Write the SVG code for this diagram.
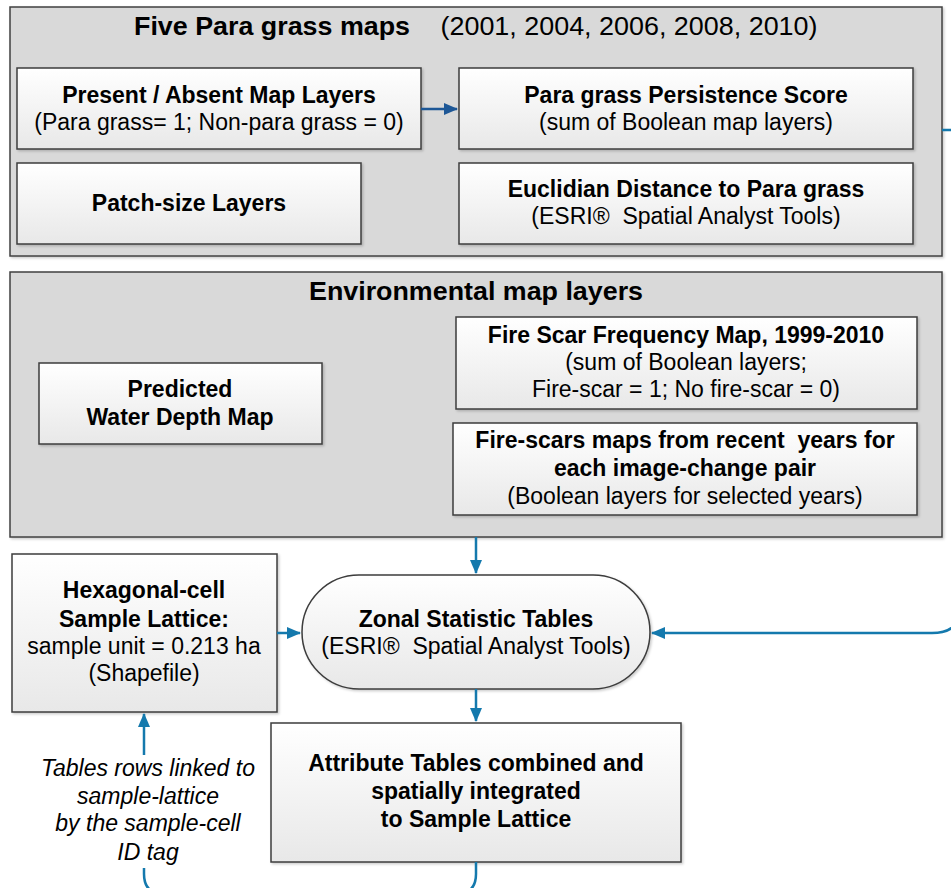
<svg xmlns="http://www.w3.org/2000/svg" width="951" height="888" viewBox="0 0 951 888">
<defs>
<linearGradient id="boxg" x1="0" y1="0" x2="0" y2="1">
<stop offset="0" stop-color="#ffffff"/>
<stop offset="1" stop-color="#e8e8e8"/>
</linearGradient>
<filter id="sh" x="-5%" y="-5%" width="110%" height="115%">
<feDropShadow dx="1.5" dy="1.5" stdDeviation="1" flood-color="#000" flood-opacity="0.2"/>
</filter>
<marker id="ah" viewBox="0 0 14 12" refX="13" refY="6" markerWidth="14" markerHeight="12" markerUnits="userSpaceOnUse" orient="auto">
<path d="M0,0 L14,6 L0,12 Z" fill="#1479ad"/>
</marker>
<marker id="ahd" viewBox="0 0 14 12" refX="13" refY="6" markerWidth="14" markerHeight="12" markerUnits="userSpaceOnUse" orient="auto">
<path d="M0,0 L14,6 L0,12 Z" fill="#1d5796"/>
</marker>
</defs>
<style>
.panel{fill:#d9d9d9;stroke:#404040;stroke-width:1.5;filter:url(#sh)}
.box{fill:url(#boxg);stroke:#3c3c3c;stroke-width:1.5;filter:url(#sh)}
text{font-family:"Liberation Sans",Arial,sans-serif;font-size:23px;fill:#000;text-anchor:middle;white-space:pre}
.b{font-weight:bold}
.i{font-style:italic}
.t{font-family:"Liberation Sans Narrow","Liberation Sans",sans-serif;font-size:26px}
.c{fill:none;stroke:#1479ad;stroke-width:2.5}
.cd{fill:none;stroke:#1d5796;stroke-width:2.5}
</style>

<g id="panel-para">
<rect class="panel" x="10" y="7" width="932" height="249"/>
<text class="t b" x="272" y="35" textLength="276" lengthAdjust="spacingAndGlyphs">Five Para grass maps</text>
<text class="t" x="629" y="35" textLength="377" lengthAdjust="spacingAndGlyphs">(2001, 2004, 2006, 2008, 2010)</text>
</g>

<g id="panel-env">
<rect class="panel" x="10" y="272" width="932" height="265"/>
<text class="t b" x="476" y="300" textLength="334" lengthAdjust="spacingAndGlyphs">Environmental map layers</text>
</g>

<g id="present-absent">
<rect class="box" x="17" y="68" width="404" height="81"/>
<text class="b" x="219" y="103">Present / Absent Map Layers</text>
<text x="219" y="130">(Para grass= 1; Non-para grass = 0)</text>
</g>

<g id="persistence">
<rect class="box" x="459" y="68" width="454" height="81"/>
<text class="b" x="686" y="103">Para grass Persistence Score</text>
<text x="686" y="130">(sum of Boolean map layers)</text>
</g>

<g id="patch-size">
<rect class="box" x="17" y="163" width="344" height="81"/>
<text class="b" x="189" y="211">Patch-size Layers</text>
</g>

<g id="euclidian">
<rect class="box" x="459" y="163" width="454" height="81"/>
<text class="b" x="686" y="197">Euclidian Distance to Para grass</text>
<text x="686" y="224" xml:space="preserve">(ESRI®  Spatial Analyst Tools)</text>
</g>

<g id="water-depth">
<rect class="box" x="39" y="363" width="283" height="81"/>
<text class="b" x="180" y="397">Predicted</text>
<text class="b" x="180" y="425">Water Depth Map</text>
</g>

<g id="fire-frequency">
<rect class="box" x="456" y="317" width="461" height="92"/>
<text class="b" x="686" y="343">Fire Scar Frequency Map, 1999-2010</text>
<text x="686" y="370">(sum of Boolean layers;</text>
<text x="686" y="397">Fire-scar = 1; No fire-scar = 0)</text>
</g>

<g id="fire-recent">
<rect class="box" x="453" y="423" width="464" height="92"/>
<text class="b" x="685" y="448" xml:space="preserve">Fire-scars maps from recent  years for</text>
<text class="b" x="685" y="476">each image-change pair</text>
<text x="685" y="504">(Boolean layers for selected years)</text>
</g>

<g id="hex-lattice">
<rect class="box" x="12" y="554" width="265" height="158"/>
<text class="b" x="144" y="598">Hexagonal-cell</text>
<text class="b" x="144" y="627">Sample Lattice:</text>
<text x="144" y="654">sample unit = 0.213 ha</text>
<text x="144" y="681">(Shapefile)</text>
</g>

<g id="zonal">
<rect class="box" x="302" y="575" width="348" height="114" rx="57" ry="57"/>
<text class="b" x="476" y="627">Zonal Statistic Tables</text>
<text x="476" y="654" xml:space="preserve">(ESRI®  Spatial Analyst Tools)</text>
</g>

<g id="attribute">
<rect class="box" x="271" y="723" width="410" height="139"/>
<text class="b" x="476" y="771">Attribute Tables combined and</text>
<text class="b" x="476" y="799">spatially integrated</text>
<text class="b" x="476" y="827">to Sample Lattice</text>
</g>

<g id="link-note">
<text class="i" x="148" y="776">Tables rows linked to</text>
<text class="i" x="148" y="804">sample-lattice</text>
<text class="i" x="148" y="831">by the sample-cell</text>
<text class="i" x="148" y="860">ID tag</text>
</g>

<g id="connectors">
<path class="cd" d="M421,109 H457" marker-end="url(#ahd)"/>
<path class="c" d="M942,130 H955 Q962,130 962,137 V603 Q962,633 932,633 H652" marker-end="url(#ah)"/>
<path class="c" d="M476,537 V573" marker-end="url(#ah)"/>
<path class="c" d="M277,633 H300" marker-end="url(#ah)"/>
<path class="c" d="M476,689 V721" marker-end="url(#ah)"/>
<path class="c" d="M144,755 V714" marker-end="url(#ah)"/>
<path class="c" d="M476,862 V874 Q476,894 456,894 H164 Q144,894 144,874 V868"/>
</g>
</svg>
